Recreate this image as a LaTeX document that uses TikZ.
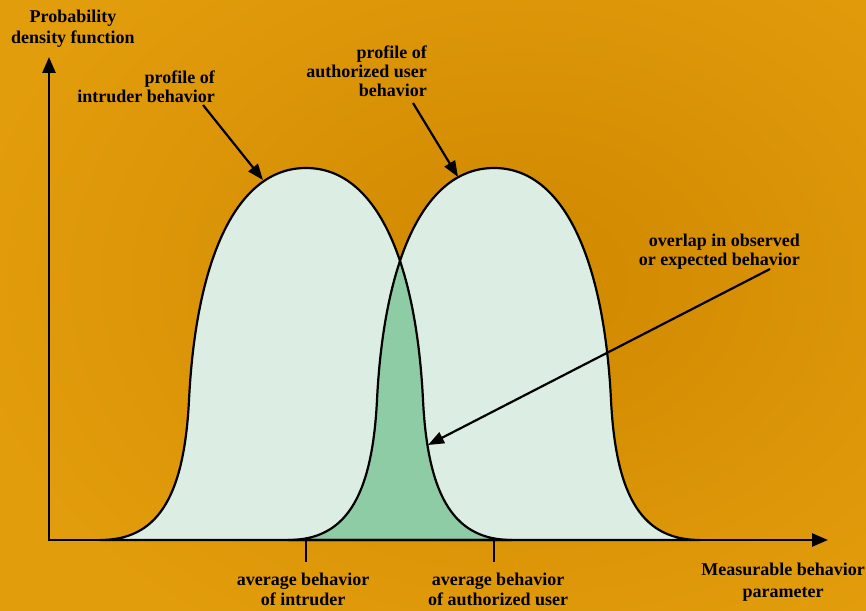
\documentclass[tikz,border=0pt]{standalone}
\usepackage{fontspec}
\setmainfont{Liberation Serif}
\usepackage{xcolor}
\usepackage{tikz}
\usetikzlibrary{arrows.meta, positioning}

\definecolor{bgdark}{RGB}{208,136,0}
\definecolor{bglight}{RGB}{226,157,12}
\definecolor{profile}{RGB}{220,238,227}
\definecolor{overlapgreen}{RGB}{142,204,165}

% one bell-shaped profile, centred at #1
\newcommand{\bell}[1]{(#1-206,70) .. controls (#1-150,70) and (#1-122,110) .. (#1-117,210)
  .. controls (#1-110,350) and (#1-70,442) .. (#1,442)
  .. controls (#1+70,442) and (#1+110,350) .. (#1+117,210)
  .. controls (#1+122,110) and (#1+150,70) .. (#1+206,70) -- cycle}

\begin{document}
\begin{tikzpicture}[
    x=1pt, y=1pt,
    label/.style={font=\bfseries\fontsize{18}{19}\selectfont, inner sep=0pt},
    curve/.style={draw=black, line width=2.2pt},
    axis/.style={line width=2.6pt, {Triangle[length=16pt,width=13pt]}-{Triangle[length=16pt,width=13pt]}},
    pointer/.style={line width=2.2pt, -{Triangle[length=16pt,width=12pt]}},
    tick/.style={line width=2.2pt}
]

% Background
\useasboundingbox (0,0) rectangle (866,610);
\begin{scope}
  \clip (0,0) rectangle (866,610);
  \shade[inner color=bgdark, outer color=bglight] (-40,-90) rectangle (1080,750);
\end{scope}

% Profiles
\fill[profile] \bell{306};
\fill[profile] \bell{494};
\begin{scope}
  \clip \bell{306};
  \fill[overlapgreen] \bell{494};
\end{scope}
\draw[curve] \bell{306};
\draw[curve] \bell{494};

% Axes
\coordinate (ytop) at (49,553);
\coordinate (origin) at (49,70);
\coordinate (xend) at (828,70);
\draw[axis] (ytop) -- (origin) -- (xend);

% Averages
\coordinate (intmean) at (306,70);
\coordinate (authmean) at (494,70);
\draw[tick] (intmean) -- ++(0,-22);
\draw[tick] (authmean) -- ++(0,-22);

% Labels
\node[label, align=center, anchor=north, font=\bfseries\fontsize{18}{21.5}\selectfont] (ylabel) at (73,600.5) {Probability\\density function};
\node[label, align=right, anchor=north east] (intlabel) at (215,539.5) {profile of\\intruder behavior};
\node[label, align=right, anchor=north east] (authlabel) at (427,564.5) {profile of\\authorized user\\behavior};
\node[label, align=right, anchor=north east] (overlaplabel) at (800,376.5) {overlap in observed\\or expected behavior};
\node[label, align=center, anchor=north, font=\bfseries\fontsize{18}{20}\selectfont] (intavg) at (303,37.5) {average behavior\\of intruder};
\node[label, align=center, anchor=north, font=\bfseries\fontsize{18}{20}\selectfont] (authavg) at (498,37.5) {average behavior\\of authorized user};
\node[label, align=center, anchor=north, font=\bfseries\fontsize{18}{22}\selectfont] (xlabel) at (783,47.5) {Measurable behavior\\parameter};

% Pointers
\coordinate (intfrom) at (203,505);
\coordinate (intto) at (263,430);
\coordinate (authfrom) at (413,507);
\coordinate (authto) at (458,433);
\coordinate (overlapfrom) at (770,341);
\coordinate (overlapto) at (428,165);
\draw[pointer] (intfrom) -- (intto);
\draw[pointer] (authfrom) -- (authto);
\draw[pointer] (overlapfrom) -- (overlapto);

\end{tikzpicture}
\end{document}
